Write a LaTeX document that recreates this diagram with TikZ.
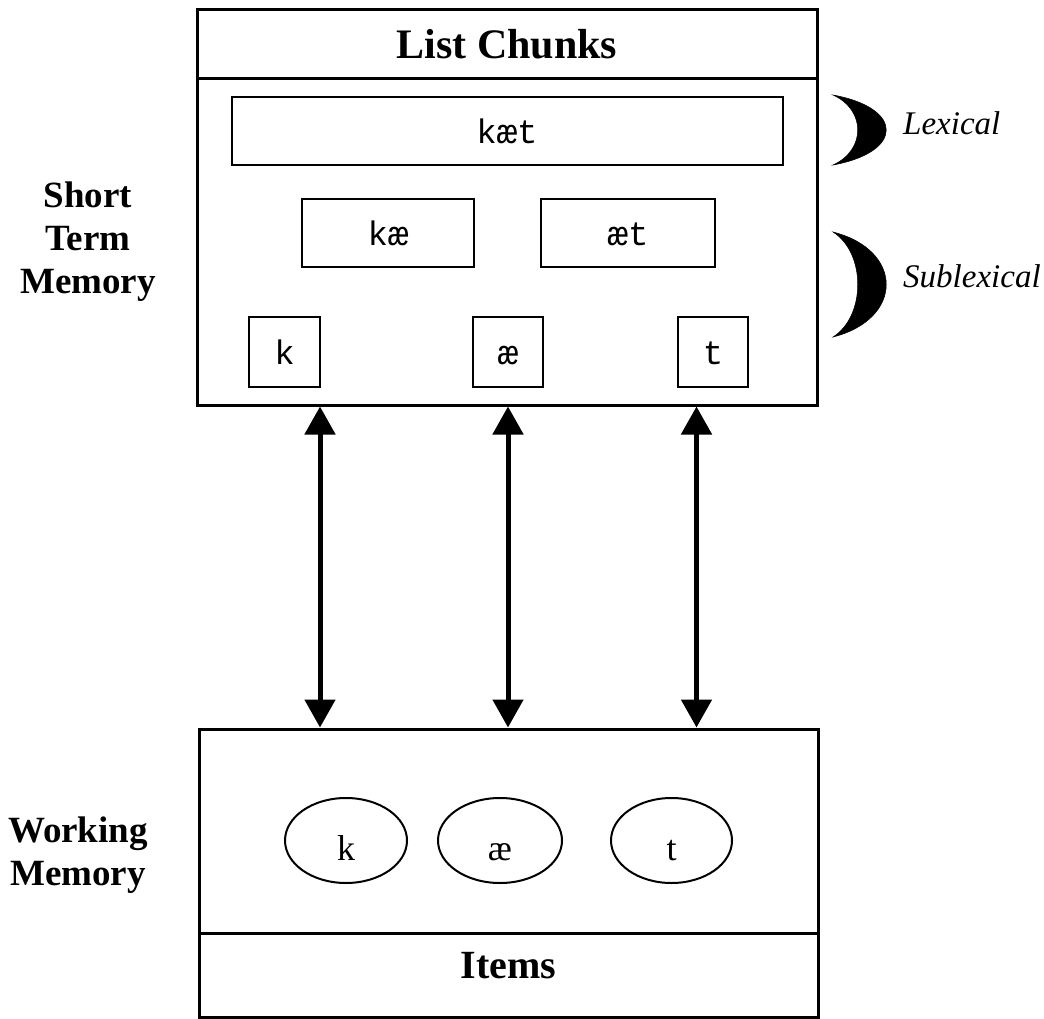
\documentclass[tikz,border=0pt]{standalone}
\usepackage{fontspec}
\setmainfont{Liberation Serif}
\setmonofont{Liberation Mono}
\usetikzlibrary{arrows.meta,shapes.geometric}
\begin{document}
\begin{tikzpicture}[x=1pt,y=-1pt,
  outer/.style={draw, line width=3pt, rectangle, inner sep=0pt},
  chunk/.style={draw, line width=2pt, rectangle, inner sep=0pt,
    font=\ttfamily\fontsize{34}{34}\selectfont, text height=25pt, text depth=0pt},
  item/.style={draw, line width=2pt, ellipse, inner sep=0pt,
    minimum width=122pt, minimum height=85pt,
    font=\fontsize{36}{36}\selectfont, text height=39pt, text depth=0pt},
  sidelabel/.style={font=\bfseries\fontsize{37}{43}\selectfont, align=center, inner sep=0pt},
  levellabel/.style={font=\itshape\fontsize{33}{33}\selectfont, inner sep=0pt, anchor=base west},
  crescent/.style={fill=black, draw=black, line width=0.5pt},
  link/.style={line width=5pt, {Triangle[length=28pt,width=30pt]}-{Triangle[length=28pt,width=30pt]}}
]
\useasboundingbox (0,0) rectangle (1044,1019);

% Short term memory box
\node[outer, minimum width=620pt, minimum height=395pt] (stm) at (507,207.5) {};
\node[outer, minimum width=620pt, minimum height=69pt,
      font=\bfseries\fontsize{42}{42}\selectfont, text height=29pt, text depth=0pt]
      (chunks) at (507,44.5) {List Chunks};

% chunks
\node[chunk, minimum width=551pt, minimum height=68pt] (cat) at (507,131) {kæt};
\node[chunk, minimum width=172pt, minimum height=68pt] (ka) at (388,233) {kæ};
\node[chunk, minimum width=174pt, minimum height=68pt] (at) at (628,233) {æt};
\node[chunk, minimum width=71pt, minimum height=70pt] (k) at (284.5,352) {k};
\node[chunk, minimum width=70pt, minimum height=70pt] (ae) at (508,352) {æ};
\node[chunk, minimum width=70pt, minimum height=70pt] (t) at (713,352) {t};

% working memory box
\node[outer, minimum width=619pt, minimum height=288pt] (wm) at (508.5,873) {};
\node[outer, minimum width=619pt, minimum height=84pt,
      font=\bfseries\fontsize{40}{40}\selectfont, text height=6pt, text depth=0pt]
      (items) at (508.5,975) {Items};

\node[item] (ik) at (346,840.5) {k};
\node[item, minimum width=124pt] (iae) at (500,840.5) {æ};
\node[item, minimum width=121pt] (it) at (671.5,840.5) {t};

% side labels
\node[sidelabel, anchor=north] (stmlabel) at (88,182) {Short\\Term\\Memory};
\node[sidelabel, anchor=north] (wmlabel) at (78,817) {Working\\Memory};

% crescents
\draw[crescent] (833,95) .. controls (904,108) and (904,152) .. (833,165)
  .. controls (866,150) and (866,110) .. (833,95) -- cycle;
\draw[crescent] (833,232) .. controls (904,250) and (904,319) .. (833,337)
  .. controls (866,316) and (866,253) .. (833,232) -- cycle;
\node[levellabel] (lex) at (903,135) {Lexical};
\node[levellabel] (sublex) at (903,287) {Sublexical};

% connectors
\coordinate (a1) at (320,405);
\coordinate (a2) at (508,405);
\coordinate (a3) at (696.5,405);
\draw[link] (a1 |- stm.south) -- (a1 |- wm.north);
\draw[link] (a2 |- stm.south) -- (a2 |- wm.north);
\draw[link] (a3 |- stm.south) -- (a3 |- wm.north);
\end{tikzpicture}
\end{document}
